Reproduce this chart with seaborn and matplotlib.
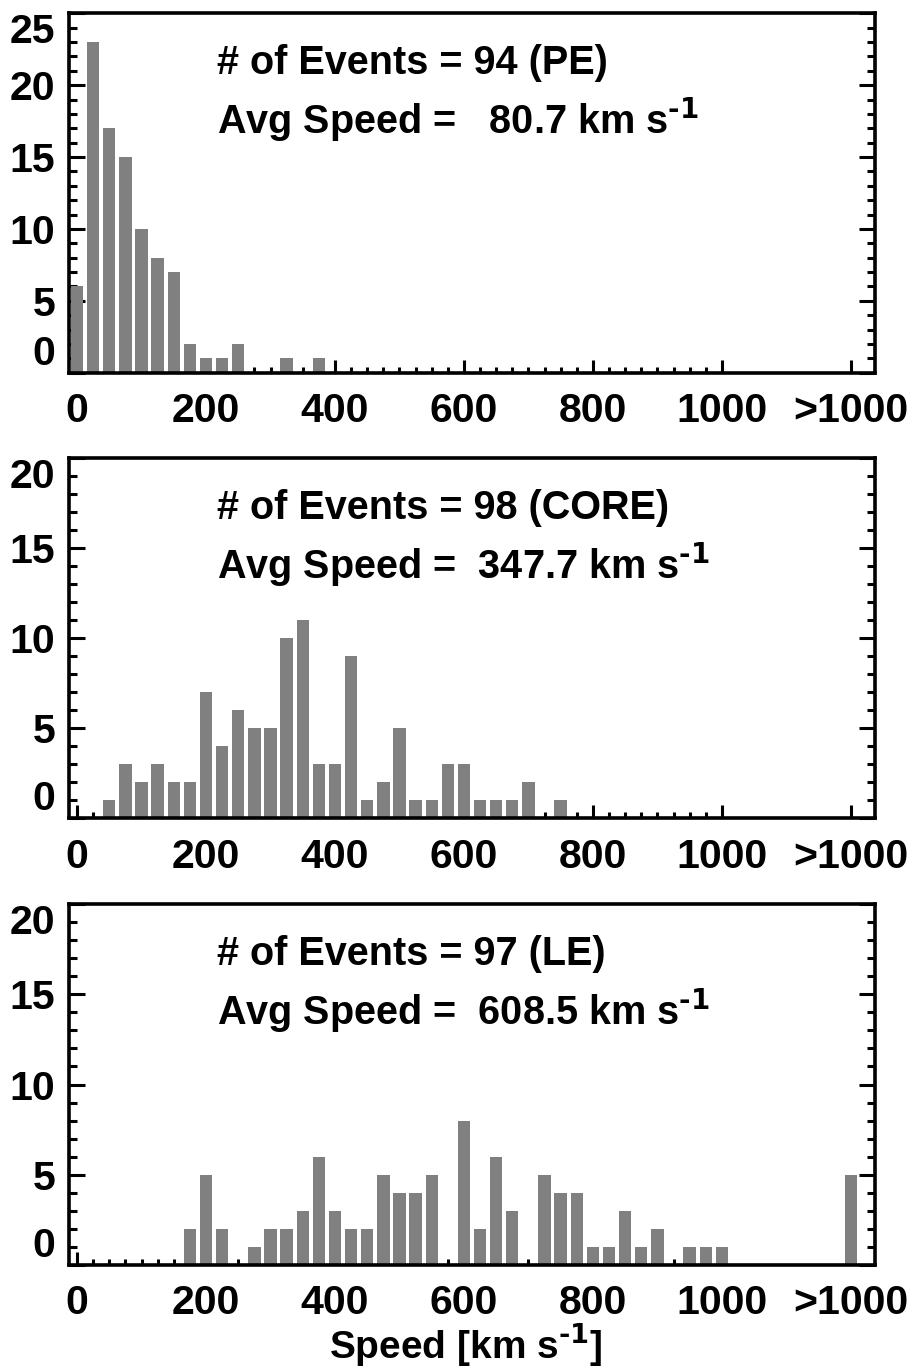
import matplotlib
matplotlib.use("Agg")
import matplotlib.pyplot as plt
import seaborn as sns
import numpy as np
import pandas as pd

# ---------------- data ----------------
# bin centres (km/s), 25 km/s bins; the last category is ">1000" placed at 1200
speed_bins = [0, 25, 50, 75, 100, 125, 150, 175, 200, 225, 250, 275, 300, 325, 350,
              375, 400, 425, 450, 475, 500, 525, 550, 575, 600, 625, 650, 675, 700,
              725, 750, 775, 800, 825, 850, 875, 900, 925, 950, 975, 1000, 1200]

counts_pe = [6, 23, 17, 15, 10, 8, 7, 2, 1, 1, 2, 0, 0, 1, 0,
             1, 0, 0, 0, 0, 0, 0, 0, 0, 0, 0, 0, 0, 0,
             0, 0, 0, 0, 0, 0, 0, 0, 0, 0, 0, 0, 0]
counts_core = [0, 0, 1, 3, 2, 3, 2, 2, 7, 4, 6, 5, 5, 10, 11,
               3, 3, 9, 1, 2, 5, 1, 1, 3, 3, 1, 1, 1, 2,
               0, 1, 0, 0, 0, 0, 0, 0, 0, 0, 0, 0, 0]
counts_le = [0, 0, 0, 0, 0, 0, 0, 2, 5, 2, 0, 1, 2, 2, 3,
             6, 3, 2, 2, 5, 4, 4, 5, 0, 8, 2, 6, 3, 0,
             5, 4, 4, 1, 1, 3, 1, 2, 0, 1, 1, 1, 5]

n_events = [94, 98, 97]
region_names = ["PE", "CORE", "LE"]
avg_speeds = [80.7, 347.7, 608.5]
y_max = [25, 20, 20]

x_tick_values = [0, 200, 400, 600, 800, 1000, 1200]
x_tick_labels = ["0", "200", "400", "600", "800", "1000", ">1000"]

# ---------------- style ----------------
sns.set_style("white")
plt.rcParams["font.family"] = ["Liberation Sans", "DejaVu Sans"]
plt.rcParams["font.weight"] = "bold"
plt.rcParams["mathtext.default"] = "regular"
for key in ["text.color", "axes.labelcolor", "xtick.color", "ytick.color",
            "axes.edgecolor"]:
    plt.rcParams[key] = "black"

BAR_COLOR = "#808080"
fig = plt.figure(figsize=(9.09, 13.68), dpi=100)

left, width = 69 / 909, 806 / 909
rects = [
    (left, 1 - 372.7 / 1368, width, 359.4 / 1368),
    (left, 1 - 818.3 / 1368, width, 360.0 / 1368),
    (left, 1 - 1265.0 / 1368, width, 361.0 / 1368),
]

all_counts = [counts_pe, counts_core, counts_le]
minor_x = [v for v in range(25, 1000, 25) if v % 200 != 0]

TICK_FS = 29.5
TEXT_FS = 28.5
for i, (rect, counts) in enumerate(zip(rects, all_counts)):
    ax = fig.add_axes(rect)
    df = pd.DataFrame({"speed": speed_bins, "count": counts})
    sns.barplot(data=df, x="speed", y="count", native_scale=True, width=0.765,
                color=BAR_COLOR, saturation=1, errorbar=None, linewidth=0, ax=ax)

    ax.set_xlim(-12.5, 1237.5)
    ax.set_ylim(0, y_max[i])
    ax.set_xlabel("")
    ax.set_ylabel("")

    for s in ax.spines.values():
        s.set_visible(True)
        s.set_linewidth(2.6)
        s.set_color("black")

    ax.set_xticks(x_tick_values)
    ax.set_xticklabels(x_tick_labels)
    ax.set_xticks(minor_x, minor=True)
    yt = list(range(0, y_max[i] + 1, 5))
    ax.set_yticks(yt)
    ax.set_yticklabels([str(v) for v in yt])
    ax.set_yticks(list(range(0, y_max[i] + 1)), minor=True)

    ax.tick_params(axis="x", which="both", direction="in", bottom=True, top=False,
                   width=2.2, color="black")
    ax.tick_params(axis="x", which="major", length=9.5, pad=14,
                   labelsize=TICK_FS, labelcolor="black")
    ax.tick_params(axis="x", which="minor", length=4.3)
    ax.tick_params(axis="y", which="both", direction="in", left=True, right=True,
                   width=2.2, color="black")
    ax.tick_params(axis="y", which="major", length=11.5, pad=10,
                   labelsize=TICK_FS, labelcolor="black")
    ax.tick_params(axis="y", which="minor", length=5.8)
    for lab in ax.get_xticklabels() + ax.get_yticklabels():
        lab.set_fontweight("bold")

    yticks = ax.yaxis.get_major_ticks()
    yticks[0].label1.set_verticalalignment("bottom")
    yticks[-1].label1.set_verticalalignment("top")

    ax.text(0.1836, 0.832, f"# of Events = {n_events[i]} ({region_names[i]})",
            transform=ax.transAxes, fontsize=TEXT_FS, fontweight="bold",
            ha="left", va="baseline", color="black")
    ax.text(0.1836, 0.665,
            f"Avg Speed = {avg_speeds[i]:6.1f} km s" + r"$^{\text{-1}}$",
            transform=ax.transAxes, fontsize=TEXT_FS, fontweight="bold",
            ha="left", va="baseline", color="black")

    if i == 2:
        ax.set_xlabel(r"Speed [km s$^{\text{-1}}$]", fontsize=28,
                      fontweight="bold", color="black")
        ax.xaxis.set_label_coords(0.4926, -0.2576)
        ax.xaxis.label.set_verticalalignment("baseline")

fig.savefig("out.png", dpi=100)
